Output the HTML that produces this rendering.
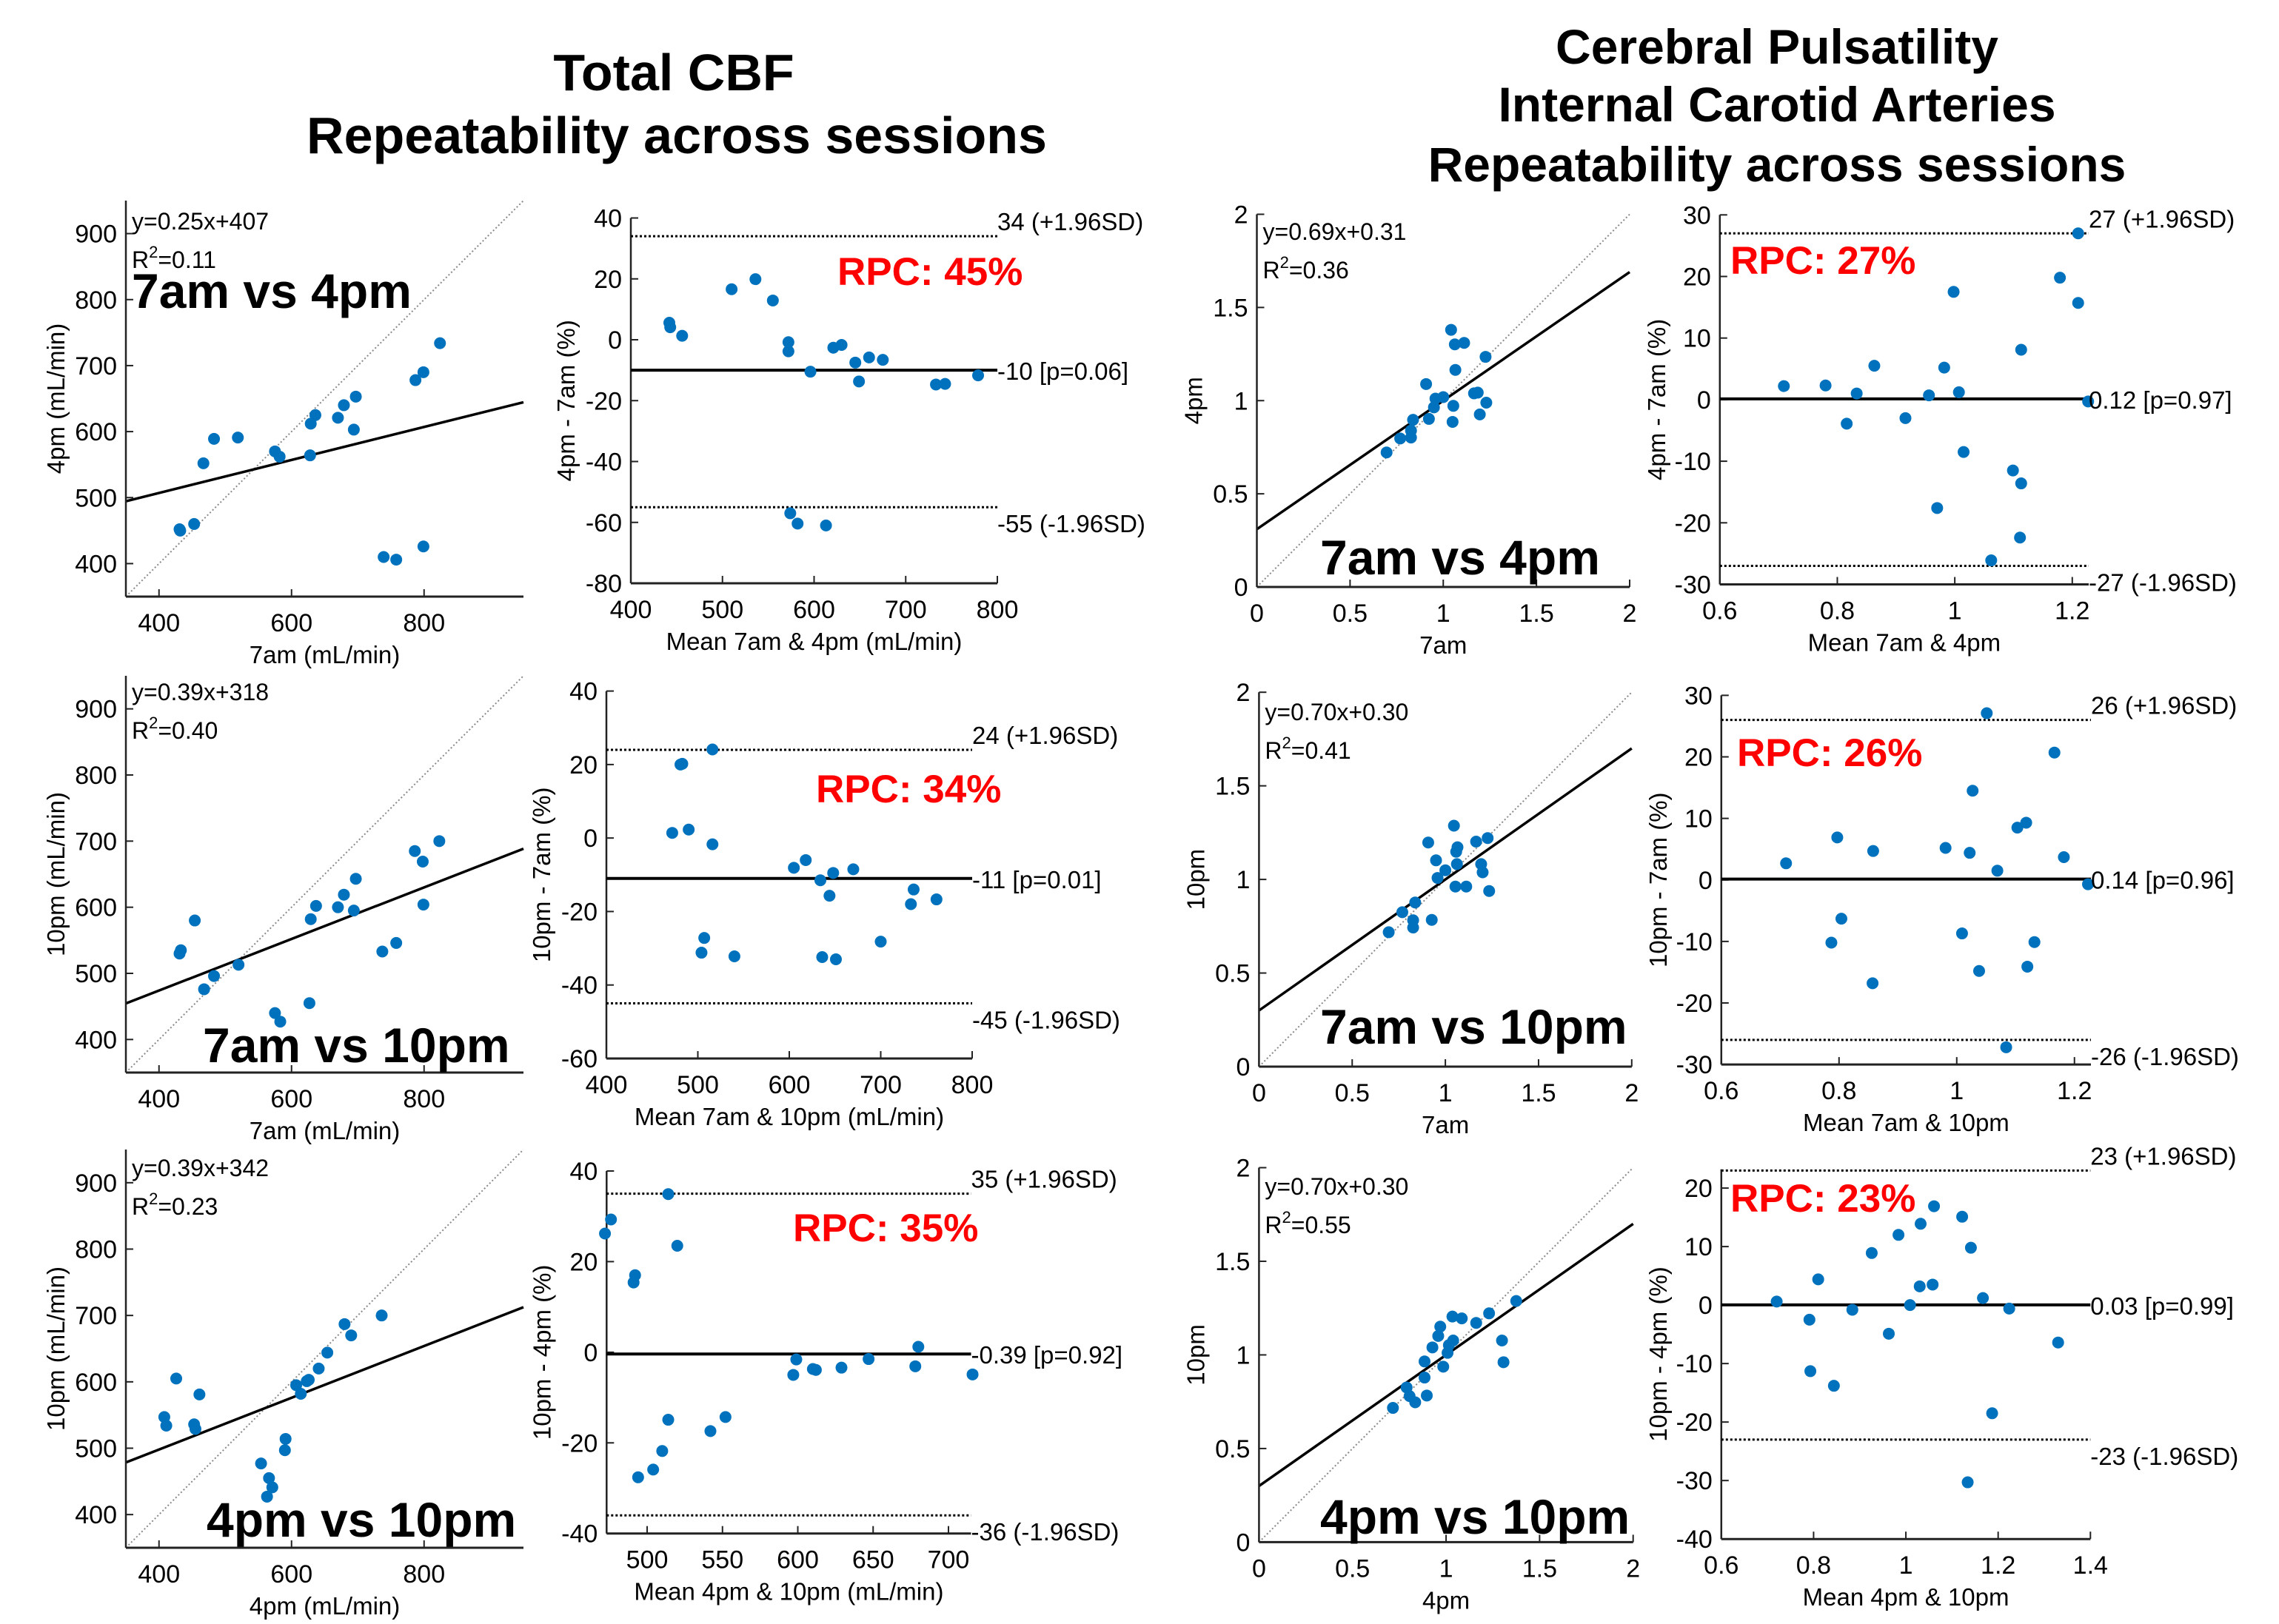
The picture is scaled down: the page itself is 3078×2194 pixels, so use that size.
<!DOCTYPE html>
<html><head><meta charset="utf-8"><style>
html,body{margin:0;padding:0;background:#fff}
svg{display:block}
text{font-family:"Liberation Sans",Arial,sans-serif;fill:#000}
</style></head><body>
<svg id="fig" xmlns="http://www.w3.org/2000/svg" width="3078" height="2194" viewBox="0 0 3078 2194">
<rect width="3078" height="2194" fill="#fff"/>
<text x="910" y="122" font-size="70" font-weight="bold" text-anchor="middle">Total CBF</text>
<text x="914" y="207" font-size="70" font-weight="bold" text-anchor="middle">Repeatability across sessions</text>
<text x="2400" y="86" font-size="66" font-weight="bold" text-anchor="middle">Cerebral Pulsatility</text>
<text x="2400" y="164" font-size="66" font-weight="bold" text-anchor="middle">Internal Carotid Arteries</text>
<text x="2400" y="245" font-size="66" font-weight="bold" text-anchor="middle">Repeatability across sessions</text>
</svg>
<script>
// ---------- DATA ----------
const s1X=[431,432,453,467,483,519,575,582,628,629,636,670,679,694,697,739,758,799,787,799,824];
const s1Y=[452,450,460,552,589,591,570,562,564,612,625,621,640,603,653,410,406,426,678,690,734];
const s1Fit=[0.25,407];
const s2X=[431,433,454,468,483,520,575,583,627,629,637,670,679,694,697,737,758,786,798,799,823];
const s2Y=[530,535,580,476,496,513,440,427,455,582,602,600,619,595,643,533,546,685,669,604,700];
const s2Fit=[0.39,318];
const s3X=[408,411,426,453,455,461,554,566,571,563,591,590,607,614,623,626,641,654,680,690,736];
const s3Y=[547,534,605,536,529,581,477,455,441,427,514,497,595,582,601,603,620,644,687,670,700];
const s3Fit=[0.39,342];
const b1Mean=[442,443,456,510,536,555,572,572,596,621,630,645,649,660,675,733,743,779,574,582,613];
const b1Diff=[5.6,4.1,1.3,16.6,19.9,12.9,-0.8,-3.8,-10.5,-2.6,-1.7,-7.5,-13.7,-5.8,-6.6,-14.7,-14.5,-11.7,-57,-60.4,-61];
const b1Lines=[-10,34,-55];
const b2Mean=[472,481,483,490,516,516,507,504,540,605,618,634,644,648,670,636,651,700,736,733,761];
const b2Diff=[1.4,20,20.2,2.3,24.1,-1.7,-27.2,-31.2,-32.2,-8.1,-6,-11.5,-15.7,-9.5,-8.5,-32.4,-33,-28.2,-14,-18,-16.7];
const b2Lines=[-11,24,-45];
const b3Mean=[472,476,491,492,514,520,514,510,504,494,542,552,597,599,610,612,629,647,678,680,716];
const b3Diff=[26.2,29.3,15.4,17,34.9,23.5,-14.9,-21.8,-25.9,-27.6,-17.4,-14.3,-5,-1.6,-3.7,-3.9,-3.4,-1.5,-3.1,1.2,-4.9];
const b3Lines=[-0.39,35,-36];
const p1X=[0.696,0.769,0.827,0.827,0.838,0.923,0.908,0.95,0.958,1.0,1.054,1.05,1.065,1.062,1.042,1.112,1.165,1.185,1.227,1.231,1.196];
const p1Y=[0.722,0.797,0.802,0.839,0.897,0.902,1.089,0.964,1.011,1.019,0.972,0.886,1.165,1.302,1.38,1.31,1.039,1.043,1.235,0.989,0.926];
const p1Fit=[0.69,0.31];
const p2X=[0.696,0.769,0.827,0.827,0.838,0.927,0.908,0.95,0.958,1.0,1.054,1.058,1.065,1.062,1.046,1.112,1.165,1.192,1.2,1.227,1.235];
const p2Y=[0.718,0.825,0.782,0.743,0.877,0.784,1.197,1.102,1.008,1.049,0.962,1.148,1.172,1.082,1.287,0.962,1.202,1.082,1.038,1.221,0.938];
const p2Fit=[0.70,0.30];
const p3X=[0.716,0.789,0.805,0.835,0.897,0.885,0.885,0.927,0.958,0.969,0.985,1.008,1.015,1.038,1.034,1.084,1.161,1.23,1.299,1.307,1.375];
const p3Y=[0.717,0.826,0.78,0.747,0.783,0.879,0.965,1.04,1.101,1.151,0.937,1.011,1.052,1.077,1.205,1.195,1.171,1.222,1.077,0.961,1.288];
const p3Fit=[0.70,0.30];
const q1Mean=[0.709,0.78,0.816,0.833,0.863,0.916,0.956,0.97,0.982,0.998,1.007,1.015,1.062,1.099,1.113,1.111,1.113,1.179,1.21,1.21,1.227];
const q1Diff=[2.2,2.3,-3.9,1.0,5.5,-3.0,0.7,-17.6,5.2,17.5,1.2,-8.5,-26.1,-11.5,-13.6,-22.4,8.1,19.8,15.7,27,-0.3];
const q1Lines=[0.12,27,-27];
const q2Mean=[0.71,0.787,0.797,0.804,0.857,0.858,0.981,1.009,1.022,1.027,1.038,1.051,1.069,1.084,1.103,1.118,1.12,1.132,1.166,1.182,1.223];
const q2Diff=[2.7,-10.2,6.9,-6.3,-16.8,4.7,5.2,-8.7,4.4,14.5,-14.8,27.1,1.5,-27.2,8.5,9.3,-14.1,-10.1,20.7,3.7,-0.7];
const q2Lines=[0.14,26,-26];
const q3Mean=[0.72,0.791,0.793,0.81,0.844,0.884,0.926,0.963,0.984,1.009,1.03,1.032,1.058,1.061,1.122,1.134,1.141,1.167,1.187,1.224,1.33];
const q3Diff=[0.6,-2.5,-11.3,4.4,-13.8,-0.8,8.9,-4.9,12,0,3.2,13.9,3.5,16.9,15.1,-30.3,9.8,1.2,-18.5,-0.6,-6.4];
const q3Lines=[0.03,23,-23];
const cbfTicks=[400,500,600,700,800,900];
const cbfXTicks=[400,600,800];
const ba1XTicks=[400,500,600,700,800];
const ba1YTicks=[-80,-60,-40,-20,0,20,40];
const ba2YTicks=[-60,-40,-20,0,20,40];
const ba3XTicks=[500,550,600,650,700];
const ba3YTicks=[-40,-20,0,20,40];
const pTicks=[0,0.5,1,1.5,2];
const pbaXTicks=[0.6,0.8,1,1.2];
const pbaYTicks=[-30,-20,-10,0,10,20,30];
const pba3XTicks=[0.6,0.8,1,1.2,1.4];
const pba3YTicks=[-40,-30,-20,-10,0,10,20];

// ---------- DRAWING ----------
const NS='http://www.w3.org/2000/svg';
const svg=document.getElementById('fig');
function mk(tag,attrs,parent){const e=document.createElementNS(NS,tag);for(const k in attrs)e.setAttribute(k,attrs[k]);(parent||svg).appendChild(e);return e;}
function txt(str,attrs,parent){const e=mk('text',attrs,parent);e.textContent=str;return e;}
function scl(d0,d1,p0,p1){return v=>p0+(v-d0)*(p1-p0)/(d1-d0);}

function axes(g,c,X,Y,xt,yt){
  const L=c.px0,R=c.px1,B=c.py0,T=c.py1;
  let a=mk('line',{x1:L,y1:B,x2:R,y2:B,stroke:'#222','stroke-width':3},g);
  
  
  a=mk('line',{x1:L,y1:B,x2:L,y2:T,stroke:'#222','stroke-width':2.5},g);
  
  
  xt.forEach(v=>{const x=X(v);
    const t=mk('line',{x1:x,y1:B,x2:x,y2:B-10,stroke:'#222','stroke-width':2},g);
    
    
    const l=txt(String(v),{x:x,y:B+47,'font-size':34,'text-anchor':'middle',fill:'#222'},g);
    
    });
  yt.forEach(v=>{const y=Y(v);
    const t=mk('line',{x1:L,y1:y,x2:L+10,y2:y,stroke:'#222','stroke-width':2},g);
    
    
    const l=txt(String(v),{x:L-12,y:y+12,'font-size':34,'text-anchor':'end',fill:'#222'},g);
    
    });
  const xl=txt(c.xlabel,{x:(L+R)/2,y:B+90,'font-size':33,'text-anchor':'middle',fill:'#222'},g);
  
  
  const cy=(B+T)/2, cx=L-c.ylOff+11;
  const yl=txt(c.ylabel,{x:cx,y:cy,'font-size':33,'text-anchor':'middle',fill:'#222',transform:`rotate(-90 ${cx} ${cy})`},g);
  
  
}
function dots(g,X,Y,xs,ys){
  xs.forEach((v,i)=>{const d=mk('ellipse',{cx:X(v),cy:Y(ys[i]),rx:8,ry:8,fill:'#0072BD'},g);
    
    });
}
function scatter(c,xs,ys,fit){
  const g=mk('g',{});
  
  
  const X=scl(c.x0,c.x1,c.px0,c.px1),Y=scl(c.y0,c.y1,c.py0,c.py1);
  let l=mk('line',{x1:X(c.x0),y1:Y(c.x0),x2:X(c.x1),y2:Y(c.x1),stroke:'#8a8a8a','stroke-width':2,'stroke-dasharray':'2 3'},g);
  
  
  l=mk('line',{x1:X(c.x0),y1:Y(fit[0]*c.x0+fit[1]),x2:X(c.x1),y2:Y(fit[0]*c.x1+fit[1]),stroke:'#000','stroke-width':3.5},g);
  
  
  axes(g,c,X,Y,c.xt,c.yt);
  dots(g,X,Y,xs,ys);
  const e=txt(c.eq,{x:c.px0+8,y:c.eqY,'font-size':32},g);
  
  
  const r=mk('text',{x:c.px0+8,y:c.eqY+52,'font-size':32},g);
  
  
  r.innerHTML='R<tspan dy="-14" font-size="22">2</tspan><tspan dy="14">'+c.r2+'</tspan>';
  const b=txt(c.big,{x:c.bigX,y:c.bigY,'font-size':66,'font-weight':'bold'},g);
  
  
}
function ba(c,xs,ds,lines){
  const g=mk('g',{});
  
  
  const X=scl(c.x0,c.x1,c.px0,c.px1),Y=scl(c.y0,c.y1,c.py0,c.py1);
  axes(g,c,X,Y,c.xt,c.yt);
  let l=mk('line',{x1:c.px0,y1:Y(lines[0]),x2:c.px1,y2:Y(lines[0]),stroke:'#000','stroke-width':4},g);
  
  
  l=mk('line',{x1:c.px0,y1:Y(lines[1]),x2:c.px1,y2:Y(lines[1]),stroke:'#000','stroke-width':3,'stroke-dasharray':'3 3'},g);
  
  
  l=mk('line',{x1:c.px0,y1:Y(lines[2]),x2:c.px1,y2:Y(lines[2]),stroke:'#000','stroke-width':3,'stroke-dasharray':'3 3'},g);
  
  
  dots(g,X,Y,xs,ds);
  let t=txt(c.labs[1],{x:c.px1,y:Y(lines[1])-8,'font-size':33},g);
  
  
  t=txt(c.labs[0],{x:c.px1,y:Y(lines[0])+13,'font-size':33},g);
  
  
  t=txt(c.labs[2],{x:c.px1,y:Y(lines[2])+34,'font-size':33},g);
  
  
  t=txt(c.rpc,{x:c.rpcX,y:c.rpcY,'font-size':53,'font-weight':'bold',fill:'#ff0000',style:'fill:#ff0000'},g);
  
  
}

scatter({name:'cbf-scatter-7am-4pm',x0:350,x1:950,px0:170,px1:707,y0:350,y1:950,py0:806,py1:271,xt:cbfXTicks,yt:cbfTicks,xlabel:'7am (mL/min)',ylabel:'4pm (mL/min)',ylOff:94,eq:'y=0.25x+407',r2:'=0.11',eqY:310,big:'7am vs 4pm',bigX:178,bigY:416},s1X,s1Y,s1Fit);
scatter({name:'cbf-scatter-7am-10pm',x0:350,x1:950,px0:170,px1:707,y0:350,y1:950,py0:1449,py1:913,xt:cbfXTicks,yt:cbfTicks,xlabel:'7am (mL/min)',ylabel:'10pm (mL/min)',ylOff:94,eq:'y=0.39x+318',r2:'=0.40',eqY:946,big:'7am vs 10pm',bigX:274,bigY:1435},s2X,s2Y,s2Fit);
scatter({name:'cbf-scatter-4pm-10pm',x0:350,x1:950,px0:170,px1:707,y0:350,y1:950,py0:2091,py1:1553,xt:cbfXTicks,yt:cbfTicks,xlabel:'4pm (mL/min)',ylabel:'10pm (mL/min)',ylOff:94,eq:'y=0.39x+342',r2:'=0.23',eqY:1589,big:'4pm vs 10pm',bigX:279,bigY:2076},s3X,s3Y,s3Fit);

ba({name:'cbf-bland-altman-7am-4pm',x0:400,x1:800,px0:852,px1:1347,y0:-80,y1:40,py0:788,py1:294.5,xt:ba1XTicks,yt:ba1YTicks,xlabel:'Mean 7am & 4pm (mL/min)',ylabel:'4pm - 7am (%)',ylOff:87,labs:['-10 [p=0.06]','34 (+1.96SD)','-55 (-1.96SD)'],rpc:'RPC: 45%',rpcX:1131,rpcY:385},b1Mean,b1Diff,b1Lines);
ba({name:'cbf-bland-altman-7am-10pm',x0:400,x1:800,px0:819,px1:1313,y0:-60,y1:40,py0:1430,py1:933.6,xt:ba1XTicks,yt:ba2YTicks,xlabel:'Mean 7am & 10pm (mL/min)',ylabel:'10pm - 7am (%)',ylOff:87,labs:['-11 [p=0.01]','24 (+1.96SD)','-45 (-1.96SD)'],rpc:'RPC: 34%',rpcX:1102,rpcY:1084},b2Mean,b2Diff,b2Lines);
ba({name:'cbf-bland-altman-4pm-10pm',x0:473.1,x1:715,px0:819.3,px1:1311.5,y0:-40,y1:40,py0:2071.7,py1:1582,xt:ba3XTicks,yt:ba3YTicks,xlabel:'Mean 4pm & 10pm (mL/min)',ylabel:'10pm - 4pm (%)',ylOff:87,labs:['-0.39 [p=0.92]','35 (+1.96SD)','-36 (-1.96SD)'],rpc:'RPC: 35%',rpcX:1071,rpcY:1677},b3Mean,b3Diff,b3Lines);

scatter({name:'pulsatility-scatter-7am-4pm',x0:0,x1:2,px0:1697.5,px1:2201,y0:0,y1:2,py0:793,py1:289.5,xt:pTicks,yt:pTicks,xlabel:'7am',ylabel:'4pm',ylOff:85,eq:'y=0.69x+0.31',r2:'=0.36',eqY:324,big:'7am vs 4pm',bigX:1783,bigY:776},p1X,p1Y,p1Fit);
scatter({name:'pulsatility-scatter-7am-10pm',x0:0,x1:2,px0:1700.4,px1:2203.8,y0:0,y1:2,py0:1441,py1:935.2,xt:pTicks,yt:pTicks,xlabel:'7am',ylabel:'10pm',ylOff:85,eq:'y=0.70x+0.30',r2:'=0.41',eqY:973,big:'7am vs 10pm',bigX:1783,bigY:1410},p2X,p2Y,p2Fit);
scatter({name:'pulsatility-scatter-4pm-10pm',x0:0,x1:2,px0:1700.4,px1:2205.7,y0:0,y1:2,py0:2083.4,py1:1577.5,xt:pTicks,yt:pTicks,xlabel:'4pm',ylabel:'10pm',ylOff:85,eq:'y=0.70x+0.30',r2:'=0.55',eqY:1614,big:'4pm vs 10pm',bigX:1783,bigY:2072},p3X,p3Y,p3Fit);

ba({name:'pulsatility-bland-altman-7am-4pm',x0:0.6,x1:1.228,px0:2322.8,px1:2821,y0:-30,y1:30,py0:789.5,py1:290.3,xt:pbaXTicks,yt:pbaYTicks,xlabel:'Mean 7am & 4pm',ylabel:'4pm - 7am (%)',ylOff:85,labs:['0.12 [p=0.97]','27 (+1.96SD)','-27 (-1.96SD)'],rpc:'RPC: 27%',rpcX:2337,rpcY:370},q1Mean,q1Diff,q1Lines);
ba({name:'pulsatility-bland-altman-7am-10pm',x0:0.6,x1:1.228,px0:2324.8,px1:2824,y0:-30,y1:30,py0:1438.1,py1:939.4,xt:pbaXTicks,yt:pbaYTicks,xlabel:'Mean 7am & 10pm',ylabel:'10pm - 7am (%)',ylOff:85,labs:['0.14 [p=0.96]','26 (+1.96SD)','-26 (-1.96SD)'],rpc:'RPC: 26%',rpcX:2346,rpcY:1035},q2Mean,q2Diff,q2Lines);
ba({name:'pulsatility-bland-altman-4pm-10pm',x0:0.6,x1:1.4,px0:2324.8,px1:2823.3,y0:-40,y1:23.2,py0:2079.2,py1:1579.8,xt:pba3XTicks,yt:pba3YTicks,xlabel:'Mean 4pm & 10pm',ylabel:'10pm - 4pm (%)',ylOff:85,labs:['0.03 [p=0.99]','23 (+1.96SD)','-23 (-1.96SD)'],rpc:'RPC: 23%',rpcX:2337,rpcY:1637},q3Mean,q3Diff,q3Lines);
</script>
</body></html>
